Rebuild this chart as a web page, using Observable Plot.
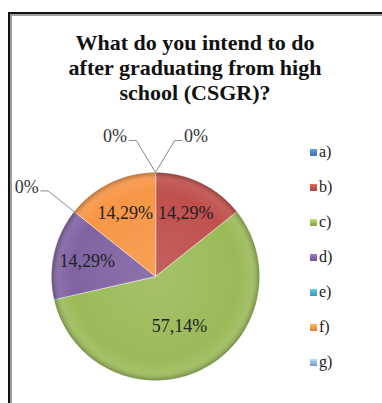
<!DOCTYPE html>
<html>
<head>
<meta charset="utf-8">
<script src="https://cdn.jsdelivr.net/npm/d3@7"></script>
<script src="https://cdn.jsdelivr.net/npm/@observablehq/plot@0.6"></script>
<style>
  html, body { margin: 0; padding: 0; background: #fff; overflow: hidden; }
  #wrap { position: relative; width: 382px; height: 403px; overflow: hidden; background: #fff; }
  #frame { position: absolute; left: 8px; top: 12px; width: 420px; height: 420px;
           border-top: 2px solid #111; border-left: 2px solid #111;
           box-shadow: inset 2px 2px 0 #a0a0a0; pointer-events: none; }
  #title { position: absolute; left: 10px; width: 370px; top: 30px; text-align: center;
           font-family: "Liberation Serif", "Times New Roman", serif; font-weight: bold;
           font-size: 22px; line-height: 25px; color: #111; }
  #legend { position: absolute; left: 310px; top: 0; font-family: "Liberation Serif", serif;
            font-size: 16px; color: #222; }
  .item { position: absolute; left: 0; height: 18px; display: flex; align-items: center; white-space: nowrap; }
  .sw { width: 7px; height: 7px; margin-right: 2px; }
  #chart { position: absolute; left: 0; top: 0; }
  #chart svg text { font-family: "Liberation Serif", "Times New Roman", serif; }
</style>
</head>
<body>
<div id="wrap">
  <div id="chart"></div>
  <div id="frame"></div>
  <div id="title"></div>
  <div id="legend"></div>
</div>
<script>
const titleLines = ["What do you intend to do", "after graduating from high", "school (CSGR)?"];
const categories = ["a)", "b)", "c)", "d)", "e)", "f)", "g)"];
const values = [0, 14.29, 57.14, 14.29, 0, 14.29, 0];
const valueLabels = ["0%", "14,29%", "57,14%", "14,29%", "0%", "14,29%", "0%"];
const colors = ["#4f81bd", "#c0504d", "#9bbb59", "#8064a2", "#4bacc6", "#f79646", "#95b3d7"];

// title
document.getElementById("title").innerHTML = titleLines.join("<br>");

// legend
const legend = document.getElementById("legend");
categories.forEach((c, i) => {
  const it = document.createElement("div");
  it.className = "item";
  it.style.top = (143 + 35 * i) + "px";
  const sw = document.createElement("span");
  sw.className = "sw";
  const col = d3.color(colors[i]);
  sw.style.background = `linear-gradient(180deg, ${col.brighter(0.6)}, ${col} 55%, ${col.darker(0.4)})`;
  const tx = document.createElement("span");
  tx.textContent = c;
  it.appendChild(sw); it.appendChild(tx);
  legend.appendChild(it);
});

// pie geometry
const data = categories.map((c, i) => ({cat: c, value: values[i], label: valueLabels[i]}));
const arcs = d3.pie().sort(null).value(d => d.value)(data);

const polar = (a, r) => ({x: r * Math.sin(a), y: r * Math.cos(a)});

const slicePts = [];
arcs.forEach(a => {
  if (a.endAngle - a.startAngle <= 0) return;
  slicePts.push({cat: a.data.cat, ...polar(0, 0)});
  const n = 90;
  for (let k = 0; k <= n; k++) {
    const t = a.startAngle + (a.endAngle - a.startAngle) * k / n;
    slicePts.push({cat: a.data.cat, ...polar(t, 1)});
  }
});

// outline circle for shading
const ringPts = d3.range(0, 181).map(k => polar(2 * Math.PI * k / 180, 1));

// inside labels: halfway between the sector centroid and 0.7 of the radius
const inside = arcs.filter(a => a.data.value > 0).map(a => {
  const th = a.endAngle - a.startAngle;
  const centroid = 4 * Math.sin(th / 2) / (3 * th);
  const m = (a.startAngle + a.endAngle) / 2;
  return {label: a.data.label, ...polar(m, (0.7 + centroid) / 2)};
});

// zero-value labels with leader lines
const leaderPts = [];
const outside = [];
arcs.filter(a => a.data.value === 0).forEach(a => {
  const ang = a.startAngle;
  let nudge = 0;
  if (ang < 0.05) nudge = 8 * Math.PI / 180;
  else if (ang > 2 * Math.PI - 0.05) nudge = -8 * Math.PI / 180;
  const edge = polar(ang, 1);
  const elbow = polar(ang + nudge, 1.32);
  const right = Math.sin(ang + nudge) >= 0;
  const tail = {x: elbow.x + (right ? 0.07 : -0.07), y: elbow.y};
  leaderPts.push({cat: a.data.cat, ...edge}, {cat: a.data.cat, ...elbow}, {cat: a.data.cat, ...tail});
  outside.push({label: a.data.label, right, ...tail});
});

const cx = 155, cy = 276, R = 104;
const serif = "'Liberation Serif', 'Times New Roman', serif";

const plot = Plot.plot({
  width: 382,
  height: 403,
  margin: 0,
  style: {background: "transparent", overflow: "visible", fontFamily: serif},
  x: {domain: [-1, 1], range: [cx - R, cx + R], axis: null},
  y: {domain: [-1, 1], range: [cy + R, cy - R], axis: null},
  color: {domain: categories, range: colors},
  marks: [
    Plot.line(slicePts, {x: "x", y: "y", z: "cat", fill: "cat", stroke: "#ffffff", strokeOpacity: 0.45, strokeWidth: 1, curve: "linear-closed"}),
    Plot.line(ringPts, {x: "x", y: "y", fill: "url(#pieShade)", stroke: "none", curve: "linear-closed"}),
    Plot.line(leaderPts, {x: "x", y: "y", z: "cat", stroke: "#8a8a8a", strokeWidth: 1}),
    Plot.text(inside, {x: "x", y: "y", text: "label", fontSize: 18, fontFamily: serif, fill: "#222"}),
    Plot.text(outside.filter(d => d.right), {x: "x", y: "y", text: "label", textAnchor: "start", dx: 2, dy: -4, fontSize: 18, fontFamily: serif, fill: "#333"}),
    Plot.text(outside.filter(d => !d.right), {x: "x", y: "y", text: "label", textAnchor: "end", dx: -2, dy: -4, fontSize: 18, fontFamily: serif, fill: "#333"})
  ]
});

// gradient definition for the bevel-like shading
const ns = "http://www.w3.org/2000/svg";
const defs = document.createElementNS(ns, "defs");
defs.innerHTML = `
  <radialGradient id="pieShade" cx="50%" cy="50%" r="50%">
    <stop offset="0%" stop-color="#ffffff" stop-opacity="0.10"/>
    <stop offset="80%" stop-color="#ffffff" stop-opacity="0.0"/>
    <stop offset="93%" stop-color="#ffffff" stop-opacity="0.08"/>
    <stop offset="100%" stop-color="#000000" stop-opacity="0.25"/>
  </radialGradient>`;
plot.insertBefore(defs, plot.firstChild);

document.getElementById("chart").appendChild(plot);
</script>
</body>
</html>
